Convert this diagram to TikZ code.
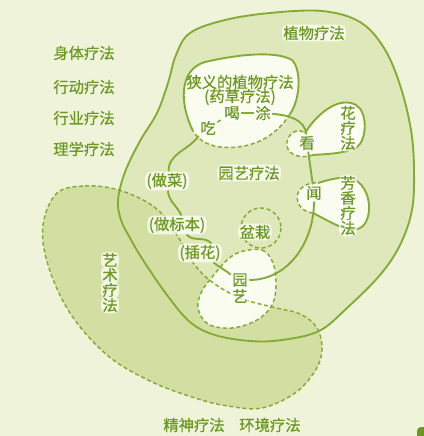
\documentclass[tikz,border=0pt]{standalone}
\usepackage{fontspec}
\setmainfont{Noto Sans CJK SC}[FakeBold=0.6]
\usepackage{xcolor}

\definecolor{bgcol}{HTML}{EEF3DA}
\definecolor{plantcol}{HTML}{DFE8BB}
\definecolor{artcol}{HTML}{D3DFA2}
\definecolor{blobcol}{HTML}{FAFCF0}
\definecolor{linecol}{HTML}{82AC33}
\definecolor{txtcol}{HTML}{6B981F}

\begin{document}
\begin{tikzpicture}[x=0.75pt,y=-0.75pt,
    edge/.style={draw=linecol,line width=1.4pt},
    dashedge/.style={draw=linecol,line width=1.1pt,dash pattern=on 3pt off 2pt},
    lbl/.style={text=txtcol,font=\fontsize{11.5}{13}\selectfont,inner sep=1pt},
    glowlbl/.style={lbl,fill=white,fill opacity=0.7,text opacity=1,rounded corners=4pt}]
            \useasboundingbox (0,0) rectangle (424,436);
            \fill[bgcol] (0,0) rectangle (424,436);
            \path[save path=\plantshape] plot[smooth cycle,tension=0.6] coordinates {(190,33) (176,55) (168,83) (157,113) (140,141) (125,172) (118,200) (121,220) (130,238) (143,260) (167,295) (190,322) (215,335) (250,341) (282,340) (319,331) (347,308) (380,275) (400,245) (412,210) (414,170) (411,130) (400,85) (384,48) (360,22) (322,11) (270,13) (225,20)};
            \path[save path=\artshape] plot[smooth cycle,tension=0.6] coordinates {(57,193) (85,186) (115,189) (145,201) (165,217) (180,240) (194,264) (212,282) (240,298) (272,307) (300,314) (317,328) (322,350) (315,371) (295,393) (262,408) (228,406) (195,398) (150,381) (107,355) (70,313) (48,265) (43,225)};
            \path[save path=\gardenshape] plot[smooth cycle,tension=0.6] coordinates {(240,252) (262,250) (273,263) (276,285) (272,305) (257,320) (232,328) (208,324) (198,308) (202,291) (213,276) (226,261)};
            \fill[plantcol,use path=\plantshape];
            \fill[artcol,use path=\artshape];
            \fill[blobcol,use path=\gardenshape];
            % white blobs
            \fill[blobcol] (193,131) .. controls (180,105) and (178,70) .. (205,62) .. controls (235,55) and (275,50) .. (292,60) .. controls (302,70) and (300,100) .. (290,114) .. controls (275,138) and (250,150) .. (220,147) .. controls (205,145) and (197,138) .. (193,131) -- cycle;
            \fill[blobcol] (305,133) .. controls (318,112) and (340,96) .. (356,105) .. controls (368,112) and (367,140) .. (357,147) .. controls (345,154) and (325,154) .. (313,155) .. controls (298,160) and (285,153) .. (287,142) .. controls (289,132) and (298,128) .. (305,133) -- cycle;
            \fill[blobcol] (318,183) .. controls (328,180) and (338,177) .. (348,178) .. controls (362,179) and (370,195) .. (369,210) .. controls (368,225) and (360,232) .. (348,229) .. controls (338,227) and (325,219) .. (313,213) .. controls (300,212) and (295,200) .. (298,193) .. controls (301,186) and (310,182) .. (318,183) -- cycle;
            % outlines
            \draw[edge,use path=\plantshape];
            \draw[dashedge,use path=\artshape];
            \draw[dashedge,use path=\gardenshape];
            \draw[dashedge] (261,228) circle (20);
            \draw[edge] (193,131) .. controls (180,105) and (178,70) .. (205,62) .. controls (235,55) and (275,50) .. (292,60) .. controls (302,70) and (300,100) .. (290,114);
            \draw[dashedge] (290,114) .. controls (275,138) and (250,150) .. (220,147) .. controls (205,145) and (197,138) .. (193,131);
            \draw[edge] (305,133) .. controls (318,112) and (340,96) .. (356,105) .. controls (368,112) and (367,140) .. (357,147) .. controls (345,154) and (325,154) .. (313,155);
            \draw[dashedge] (313,155) .. controls (298,160) and (285,153) .. (287,142) .. controls (289,132) and (298,128) .. (305,133);
            \draw[edge] (318,183) .. controls (328,180) and (338,177) .. (348,178) .. controls (362,179) and (370,195) .. (369,210) .. controls (368,225) and (360,232) .. (348,229) .. controls (338,227) and (325,219) .. (313,213);
            \draw[dashedge] (313,213) .. controls (300,212) and (295,200) .. (298,193) .. controls (301,186) and (310,182) .. (318,183);
            % labels
            \node[lbl] (shenti) at (84,53) {身体疗法};
            \node[lbl] (xingdong) at (84,87) {行动疗法};
            \node[lbl] (xingye) at (84,118) {行业疗法};
            \node[lbl] (lixue) at (84,149) {理学疗法};
            \node[glowlbl] (zhiwu) at (314,33) {植物疗法};
            \node[lbl] (xiayi) at (240,82) {狭义的植物疗法};
            \node[lbl] (yaocao) at (240,97) {(药草疗法)};
            \node[glowlbl] (chi) at (208,128) {吃};
            \node[glowlbl] (he) at (232,113) {喝};
            \node[glowlbl] (tu) at (263,113) {涂};
            \node[glowlbl] (kan) at (307,143) {看};
            \node[glowlbl] (wen) at (314,193) {闻};
            \node[glowlbl] (yuanyiliaofa) at (249,173) {园艺疗法};
            \node[glowlbl] (zuocai) at (167,181) {(做菜)};
            \node[glowlbl] (biaoben) at (177,225) {(做标本)};
            \node[glowlbl] (chahua) at (200,253) {(插花)};
            \node[glowlbl] (penzai) at (255,232) {盆栽};
            \node[glowlbl] (yuan) at (240,280) {园};
            \node[glowlbl] (yi) at (240,296) {艺};
            \foreach \ch [count=\i] in {花,疗,法}
                \node[glowlbl] (hua\i) at (348,98+15*\i) {\ch};
            \foreach \ch [count=\i] in {芳,香,疗,法}
                \node[glowlbl] (fang\i) at (348,168+15*\i) {\ch};
            \foreach \ch [count=\i] in {艺,术,疗,法}
                \node[glowlbl] (yishu\i) at (110,245+15*\i) {\ch};
            \node[lbl] (jingshen) at (194,425) {精神疗法};
            \node[lbl] (huanjing) at (270,425) {环境疗法};
            % horticulture loop
            \draw[dashedge] (chi) -- (he);
            \draw[edge] (he) -- (tu);
            \draw[edge] (tu) to[out=-5,in=95] (kan);
            \draw[edge] (kan) -- (wen);
            \draw[edge] (wen) to[out=-90,in=0] (yuan);
            \draw[edge] (chi.220) to[out=235,in=92] (zuocai.80);
            \draw[edge] (zuocai.-85) to[out=-85,in=115] (biaoben.65);
            \draw[edge] (biaoben.-45) to[out=-50,in=130] (chahua.40);
            \draw[edge] (chahua.-35) to[out=-40,in=140] (yuan.150);
            \fill[txtcol,rounded corners=3pt] (417,427) rectangle (432,445);
\end{tikzpicture}
\end{document}
